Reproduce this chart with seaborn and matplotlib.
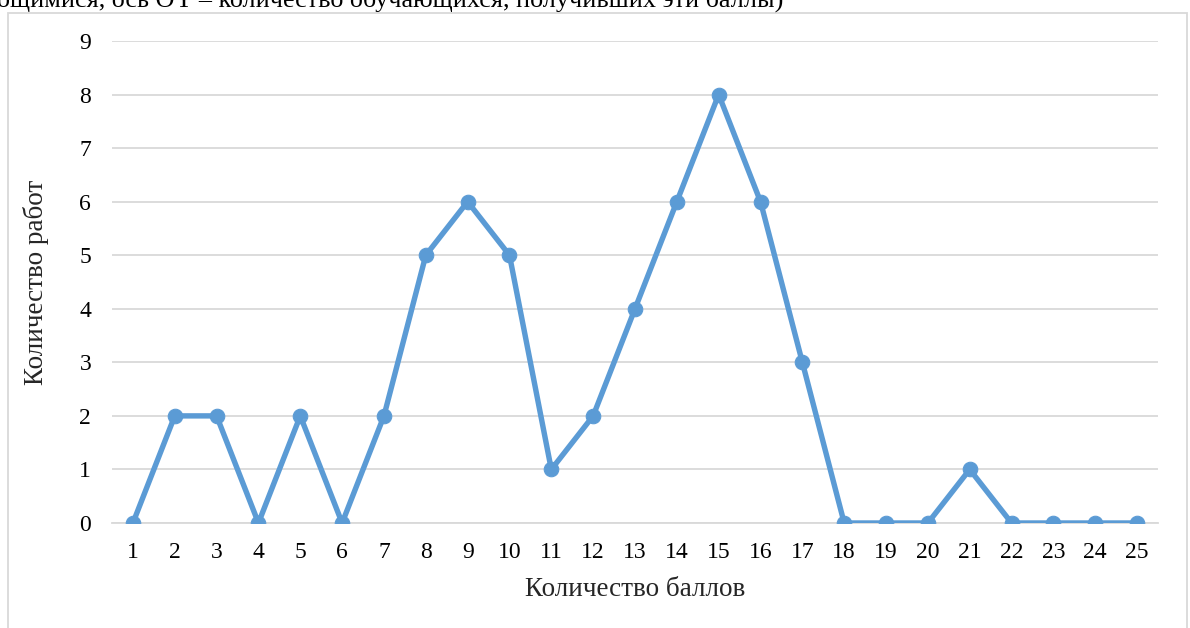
import matplotlib
matplotlib.use("Agg")
import matplotlib.pyplot as plt
import seaborn as sns
import pandas as pd
from matplotlib.patches import Rectangle

scores = list(range(1, 26))
counts = [0, 2, 2, 0, 2, 0, 2, 5, 6, 5, 1, 2, 4, 6, 8, 6, 3, 0, 0, 0, 1, 0, 0, 0, 0]
y_ticks = list(range(0, 10))
x_label = "Количество баллов"
y_label = "Количество работ"
top_text = "ощимися, ось OY – количество обучающихся, получивших эти баллы)"

sns.set_theme(style="white")
plt.rcParams['font.family'] = ['Liberation Serif', 'DejaVu Serif']

df = pd.DataFrame({"score": scores, "count": counts})

fig = plt.figure(figsize=(11.9, 6.28), dpi=100)
ax = fig.add_axes([112/1190, 1 - 523/628, (1158-112)/1190, (523-41)/628])

color = "#5B9BD5"
sns.lineplot(data=df, x="score", y="count", ax=ax, color=color, linewidth=3.9,
             marker="o", markersize=10.5, markeredgecolor=color, markerfacecolor=color, zorder=3)

ax.set_xlim(0.5, 25.5)
ax.set_ylim(0, 9)
ax.set_xticks(scores)
ax.set_xticklabels([str(s) for s in scores])
ax.set_yticks(y_ticks)
ax.yaxis.grid(True, color="#D9D9D9", linewidth=1.3)
ax.xaxis.grid(False)
for s in ax.spines.values():
    s.set_visible(False)
ax.spines['bottom'].set_visible(True)
ax.spines['bottom'].set_color("#D9D9D9")
ax.spines['bottom'].set_linewidth(1.3)
ax.tick_params(axis='both', length=0, labelsize=17, colors="#000000")
ax.tick_params(axis='x', pad=14)
ax.tick_params(axis='y', pad=15)
ax.set_xlabel(x_label, fontsize=19.5, labelpad=10)
ax.set_ylabel(y_label, fontsize=19.5, labelpad=22)
ax.set_facecolor("white")
ax.patch.set_alpha(0)

# chart frame
frame = Rectangle((7.5/1190, -0.05), (1187-7.5)/1190, 1.05 - 13.5/628,
                  transform=fig.transFigure, fill=False, edgecolor="#D9D9D9",
                  linewidth=1.3, zorder=0)
fig.patches.append(frame)

# cropped document text above the chart
fig.text(-3/1190, 1 - 7/628, top_text, fontsize=18.8, va='baseline', ha='left',
         color="#000000")

fig.savefig("out.png", dpi=100, facecolor="white")
